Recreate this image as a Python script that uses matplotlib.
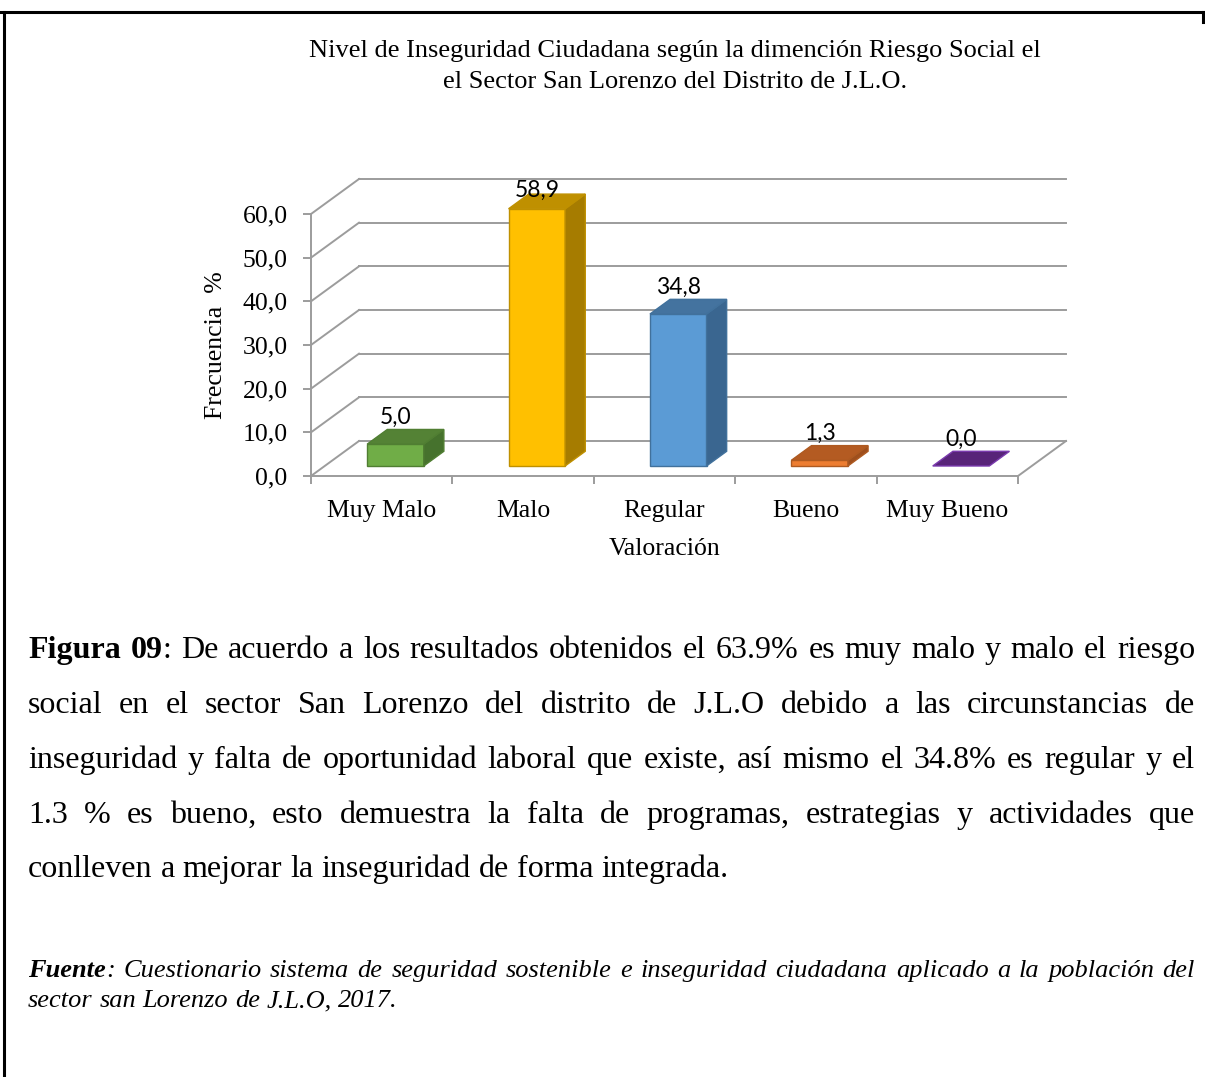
import matplotlib
matplotlib.use("Agg")
import matplotlib.pyplot as plt
from matplotlib.patches import Polygon, Rectangle
from matplotlib.lines import Line2D
from matplotlib.ticker import FixedLocator, FuncFormatter, NullFormatter

# ---------------- data ----------------
categories = ["Muy Malo", "Malo", "Regular", "Bueno", "Muy Bueno"]
values = [5.0, 58.9, 34.8, 1.3, 0.0]
yticks = [0, 10, 20, 30, 40, 50, 60]

title_lines = ["Nivel de Inseguridad Ciudadana según la dimención Riesgo Social el",
               "el Sector San Lorenzo del Distrito de J.L.O."]
xlabel = "Valoración"
ylabel = "Frecuencia  %"

body_lines = [
    "Figura 09: De acuerdo a los resultados obtenidos el 63.9% es muy malo y malo el riesgo",
    "social en el sector San Lorenzo del distrito de J.L.O debido a las circunstancias de",
    "inseguridad y falta de oportunidad laboral que existe, así mismo el 34.8% es regular y el",
    "1.3 % es bueno, esto demuestra la falta de programas, estrategias y actividades que",
    "conlleven a mejorar la inseguridad de forma integrada.",
]
footer_lines = [
    "Fuente: Cuestionario sistema de seguridad sostenible e inseguridad ciudadana aplicado a la población del",
    "sector san Lorenzo de J.L.O, 2017.",
]

# ---------------- style ----------------
front_colors = ["#70AD47", "#FFC000", "#5B9BD5", "#ED7D31", "#7030A0"]
top_colors = ["#548235", "#BF9000", "#44739F", "#B45B22", "#582479"]
side_colors = ["#46722D", "#A67C00", "#3A6690", "#9E4F1D", "#4E206C"]
edge_colors = ["#507E32", "#BF9000", "#41719C", "#AE5A21", "#7A3AAE"]
GRID = "#9C9C9C"
SERIF = "Liberation Serif"

W, H = 1205, 1077
fig = plt.figure(figsize=(W / 100, H / 100), dpi=100)
fig.patch.set_facecolor("white")

# frame
fig.add_artist(Line2D([0, 1], [1 - 12 / H, 1 - 12 / H], color="black", lw=2.2))
fig.add_artist(Line2D([4 / W, 4 / W], [0, 1 - 12 / H], color="black", lw=2.2))
fig.add_artist(Line2D([1 - 2 / W, 1 - 2 / W], [1 - 12 / H, 1 - 22 / H], color="black", lw=2.2))

# ---------------- chart ----------------
ax = fig.add_axes([311 / W, 1 - 476 / H, 707 / W, 262 / H])
ax.set_xlim(0, len(categories))
ax.set_ylim(0, 60)
ax.set_facecolor("none")
for s in ["top", "right"]:
    ax.spines[s].set_visible(False)
for s in ["left", "bottom"]:
    ax.spines[s].set_color(GRID)
    ax.spines[s].set_linewidth(1.4)
    ax.spines[s].set_zorder(1)

n = len(categories)
ax.yaxis.set_major_locator(FixedLocator(yticks))
ax.yaxis.set_major_formatter(FuncFormatter(lambda v, p: f"{v:.1f}".replace(".", ",")))
ax.tick_params(axis="y", direction="out", length=5.8, width=1.4, color=GRID,
               labelsize=18.5, pad=11)
ax.xaxis.set_major_locator(FixedLocator(list(range(n + 1))))
ax.xaxis.set_major_formatter(NullFormatter())
ax.xaxis.set_minor_locator(FixedLocator([i + 0.5 for i in range(n)]))
ax.xaxis.set_minor_formatter(FuncFormatter(lambda v, p: categories[int(v)]))
ax.tick_params(axis="x", which="major", direction="out", length=6, width=1.4, color=GRID)
ax.tick_params(axis="x", which="minor", length=0, labelsize=18.5, pad=17)
for lab in ax.get_yticklabels() + ax.get_xticklabels(minor=True):
    lab.set_fontfamily(SERIF)
ax.set_xlabel(xlabel, fontfamily=SERIF, fontsize=18.5, labelpad=12)
ax.set_ylabel(ylabel, fontfamily=SERIF, fontsize=18.5, labelpad=11)

# depth (pixels) converted to data units through the axes scale
fig.canvas.draw()
bb = ax.get_window_extent()
px_x = bb.width / n
px_y = bb.height / 60.0
DX = 48 / px_x
DY = 35 / px_y

# back wall gridlines + left wall diagonals
for v in yticks:
    ax.plot([DX, n + DX], [v + DY, v + DY], color=GRID, lw=1.4, clip_on=False, zorder=0.5)
    ax.plot([0, DX], [v, v + DY], color=GRID, lw=1.4, clip_on=False, zorder=0.5)
# floor right edge
ax.plot([n, n + DX], [0, DY], color=GRID, lw=1.4, clip_on=False, zorder=0.5)

# bars
bw = 0.40
f0, fd = 0.286, 0.42
for i, v in enumerate(values):
    x0 = i + 0.5 - bw / 2 + f0 * DX
    x1 = x0 + bw
    y0 = f0 * DY
    y1 = y0 + v
    ddx, ddy = fd * DX, fd * DY
    ec = edge_colors[i]
    if v > 0:
        ax.add_patch(Rectangle((x0, y0), bw, v, facecolor=front_colors[i], edgecolor=ec,
                               lw=1, zorder=3, clip_on=False))
        ax.add_patch(Polygon([(x1, y0), (x1 + ddx, y0 + ddy), (x1 + ddx, y1 + ddy), (x1, y1)],
                             closed=True, facecolor=side_colors[i], edgecolor=ec, lw=1,
                             zorder=3, clip_on=False))
    ax.add_patch(Polygon([(x0, y1), (x1, y1), (x1 + ddx, y1 + ddy), (x0 + ddx, y1 + ddy)],
                         closed=True, facecolor=top_colors[i], edgecolor=ec, lw=1,
                         zorder=3, clip_on=False))
    # label sits above the bar, but is kept inside the chart area (as the source does)
    off = min(19.5, (60 + DY - y1) * px_y * 0.72 - 8)
    ax.annotate(f"{v:.1f}".replace(".", ","), xy=(x0 + bw / 2, y1), xytext=(0, off),
                textcoords="offset points", ha="center", va="center",
                fontsize=16.5, fontfamily="Lato", color="black", zorder=5,
                annotation_clip=False)

# ---------------- title ----------------
fig.text(675 / W, 1 - 57 / H, title_lines[0], ha="center", va="baseline",
         fontfamily=SERIF, fontsize=19)
fig.text(675 / W, 1 - 88 / H, title_lines[1], ha="center", va="baseline",
         fontfamily=SERIF, fontsize=19)

# ---------------- justified paragraphs ----------------
renderer = fig.canvas.get_renderer()


def measure(txt, **kw):
    t = fig.text(0, 0, txt, **kw)
    w = t.get_window_extent(renderer).width
    t.remove()
    return w


def draw_lines(lines, baselines, x_left, x_right, base_kw, bold_first=None, last_left=True):
    for li, (line, yb) in enumerate(zip(lines, baselines)):
        words = line.split(" ")
        runs_per_word = []
        for wd in words:
            runs = [(wd, {})]
            if bold_first and li == 0 and wd in bold_first:
                b = bold_first[wd]
                rest = wd[len(b):]
                runs = [(b, {"fontweight": "bold"})]
                if rest:
                    runs.append((rest, {}))
            runs_per_word.append(runs)
        widths = []
        for runs in runs_per_word:
            widths.append(sum(measure(t, **{**base_kw, **k}) for t, k in runs))
        space = measure("a a", **base_kw) - measure("aa", **base_kw)
        if li == len(lines) - 1 and last_left:
            gap = space
        else:
            gap = (x_right - x_left - sum(widths)) / max(len(words) - 1, 1)
        x = x_left
        for runs, wdt in zip(runs_per_word, widths):
            xx = x
            for t, k in runs:
                fig.text(xx / W, 1 - yb / H, t, ha="left", va="baseline", **{**base_kw, **k})
                xx += measure(t, **{**base_kw, **k})
            x += wdt + gap


draw_lines(body_lines, [658, 713, 768, 823, 877], 28, 1195,
           {"fontfamily": SERIF, "fontsize": 23},
           bold_first={"Figura": "Figura", "09:": "09"})
draw_lines(footer_lines, [977, 1007], 28, 1195,
           {"fontfamily": SERIF, "fontsize": 19, "fontstyle": "italic"},
           bold_first={"Fuente:": "Fuente"})

fig.savefig("out.png", dpi=100, facecolor="white")
